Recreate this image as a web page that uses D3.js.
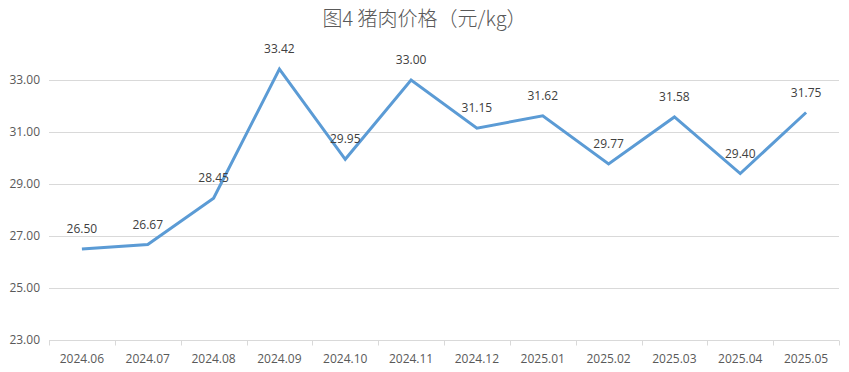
<!DOCTYPE html>
<html>
<head>
<meta charset="utf-8">
<script src="https://cdn.jsdelivr.net/npm/d3@7"></script>
<style>
  body { margin: 0; background: #fff; }
  svg { display: block; }
</style>
</head>
<body>
<div id="chart"></div>
<script>
// data
var months = ["2024.06", "2024.07", "2024.08", "2024.09", "2024.10", "2024.11",
              "2024.12", "2025.01", "2025.02", "2025.03", "2025.04", "2025.05"];
var prices = [26.50, 26.67, 28.45, 33.42, 29.95, 33.00, 31.15, 31.62, 29.77, 31.58, 29.40, 31.75];
var yTicks = [23, 25, 27, 29, 31, 33];

var W = 849, H = 372;
var margin = {top: 80, right: 10, bottom: 32, left: 49};
var width = W - margin.left - margin.right;
var height = H - margin.top - margin.bottom;

var svg = d3.select("#chart").append("svg")
    .attr("width", W)
    .attr("height", H);

svg.append("text")
    .attr("x", W / 2)
    .attr("y", 26)
    .attr("text-anchor", "middle")
    .style("font-family", "'Noto Sans CJK SC', sans-serif")
    .style("font-size", "20px")
    .style("font-weight", "300")
    .style("fill", "#595959")
    .text("图4 猪肉价格（元/kg）");

var g = svg.append("g")
    .attr("transform", "translate(" + margin.left + "," + margin.top + ")");

var xScale = d3.scaleBand().domain(months).range([0, width]);
var yScale = d3.scaleLinear().domain([23, 33]).range([height, 0]);

// gridlines
g.selectAll(".grid")
    .data(yTicks)
    .enter()
    .append("line")
    .attr("x1", 0)
    .attr("x2", width)
    .attr("y1", function(d) { return Math.round(yScale(d)) + 0.5; })
    .attr("y2", function(d) { return Math.round(yScale(d)) + 0.5; })
    .style("stroke", "#d9d9d9")
    .style("stroke-width", 1);

// y axis labels
var yAxis = d3.axisLeft(yScale).tickValues(yTicks)
    .tickFormat(d3.format(".2f")).tickSize(0).tickPadding(9);
var yAxis_g = g.append("g").call(yAxis);
yAxis_g.select(".domain").remove();
yAxis_g.selectAll("text")
    .style("font-family", "'Open Sans', 'Liberation Sans', sans-serif")
    .style("font-size", "12px")
    .style("fill", "#595959");

// x axis with ticks between categories
var xAxis_g = g.append("g")
    .attr("transform", "translate(0," + (Math.round(height) + 0.5) + ")");
xAxis_g.append("line")
    .attr("x1", 0).attr("x2", width)
    .style("stroke", "#d9d9d9");
var bounds = months.map(function(m) { return xScale(m); }).concat([width]);
xAxis_g.selectAll(".tick")
    .data(bounds)
    .enter()
    .append("line")
    .attr("x1", function(d) { return Math.round(d) + 0.5; })
    .attr("x2", function(d) { return Math.round(d) + 0.5; })
    .attr("y1", 0).attr("y2", 5)
    .style("stroke", "#d9d9d9");
xAxis_g.selectAll(".xlabel")
    .data(months)
    .enter()
    .append("text")
    .attr("x", function(d) { return xScale(d) + xScale.bandwidth() / 2; })
    .attr("y", 22)
    .attr("text-anchor", "middle")
    .style("font-family", "'Open Sans', 'Liberation Sans', sans-serif")
    .style("font-size", "12px")
    .style("fill", "#595959")
    .text(function(d) { return d; });

// line
var line = d3.line()
    .x(function(d, i) { return xScale(months[i]) + xScale.bandwidth() / 2; })
    .y(function(d) { return yScale(d); });

g.append("path")
    .datum(prices)
    .attr("d", line)
    .style("fill", "none")
    .style("stroke", "#5b9bd5")
    .style("stroke-width", 3)
    .style("stroke-linejoin", "miter");

// data labels
g.selectAll(".label")
    .data(prices)
    .enter()
    .append("text")
    .attr("x", function(d, i) { return xScale(months[i]) + xScale.bandwidth() / 2; })
    .attr("y", function(d) { return yScale(d) - 16; })
    .attr("text-anchor", "middle")
    .style("font-family", "'Open Sans', 'Liberation Sans', sans-serif")
    .style("font-size", "12px")
    .style("fill", "#404040")
    .text(function(d) { return d.toFixed(2); });
</script>
</body>
</html>
